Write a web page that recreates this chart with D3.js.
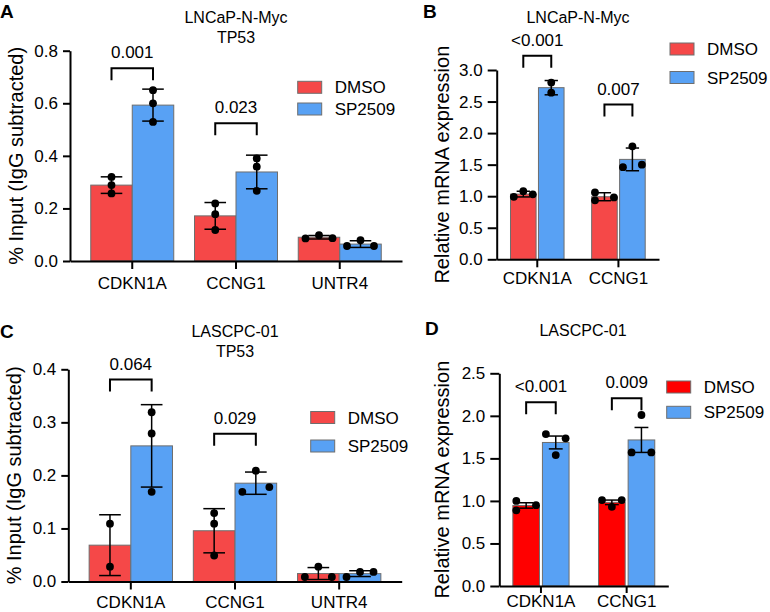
<!DOCTYPE html>
<html><head><meta charset="utf-8">
<script src="https://cdn.jsdelivr.net/npm/d3@7"></script>
<style>
body{margin:0;background:#fff;}
svg text{font-family:"Liberation Sans",Arial,Helvetica,sans-serif;fill:#000;}
</style></head><body>
<svg id="fig" width="770" height="612"></svg>
<script>
// ---------------- data ----------------
const seriesNames = ["DMSO", "SP2509"];
const chipGenes = ["CDKN1A", "CCNG1", "UNTR4"];
const rnaGenes = ["CDKN1A", "CCNG1"];

// Panel A: ChIP, LNCaP-N-Myc, TP53 (% input, mean ± SD)
const aTitle = ["LNCaP-N-Myc", "TP53"];
const aDMSO = [[0.32, 0.289, 0.257], [0.219, 0.178, 0.118], [0.086, 0.087, 0.098]];
const aSP2509 = [[0.65, 0.60, 0.529], [0.39, 0.359, 0.267], [0.057, 0.057, 0.079]];
const aTicks = [0, 0.2, 0.4, 0.6, 0.8];
const aPValues = ["0.001", "0.023"];
const aBracketAt = [0.733, 0.524];

// Panel B: qPCR, LNCaP-N-Myc (relative mRNA, mean ± SD)
const bTitle = ["LNCaP-N-Myc"];
const bDMSO = [[0.99, 1.03, 1.08], [1.06, 0.98, 0.935]];
const bSP2509 = [[2.80, 2.64], [1.46, 1.50, 1.79]];
const bTicks = [0, 0.5, 1.0, 1.5, 2.0, 2.5, 3.0];
const bPValues = ["<0.001", "0.007"];
const bBracketAt = [3.227, 2.453];

// Panel C: ChIP, LASCPC-01, TP53 (% input, mean ± SD)
const cTitle = ["LASCPC-01", "TP53"];
const cDMSO = [[0.109, 0.028], [0.129, 0.109, 0.049], [0.0085, 0.0085, 0.028]];
const cSP2509 = [[0.319, 0.279, 0.169], [0.169, 0.178, 0.209], [0.0085, 0.018, 0.018]];
const cTicks = [0, 0.1, 0.2, 0.3, 0.4];
const cPValues = ["0.064", "0.029"];
const cBracketAt = [0.3806, 0.2786];

// Panel D: qPCR, LASCPC-01 (relative mRNA, mean ± SEM)
const dTitle = ["LASCPC-01"];
const dDMSO = [[1.0, 0.95, 0.89], [1.01, 1.01, 0.93]];
const dSP2509 = [[1.786, 1.736, 1.539], [1.57, 1.57, 2.01]];
const dTicks = [0, 0.5, 1.0, 1.5, 2.0, 2.5];
const dPValues = ["<0.001", "0.009"];
const dBracketAt = [2.159, 2.206];

const chipYLabel = "% Input (IgG subtracted)";
const rnaYLabel = "Relative mRNA expression";

// ---------------- layout ----------------
const FONT = 17;
const panels = [
  {letter:"A", lx:0, ly:17.5, genes:chipGenes, dmso:aDMSO, sp:aSP2509, ticks:aTicks, pv:aPValues, br:aBracketAt, err:"SD",
   title:aTitle, tx:236, tys:[23, 43.3], ylabel:chipYLabel, ylx:22.5,
   x0:70, x1:402, padIn:0.2, padOut:0.2, padSub:0, yBase:261, yTop:50.7, yTick:7, xTick:8, xPad:8,
   colors:["#F54848", "#58A1F4"], legX:297.7, legY:[93.3, 115]},
  {letter:"B", lx:423, ly:17.5, genes:rnaGenes, dmso:bDMSO, sp:bSP2509, ticks:bTicks, pv:bPValues, br:bBracketAt, err:"SD",
   title:bTitle, tx:578, tys:[23], ylabel:rnaYLabel, ylx:449,
   x0:496.7, x1:659, padIn:0.34, padOut:0.17, padSub:0.085, yBase:259.3, yTop:70, yTick:9, xTick:8, xPad:5,
   colors:["#F54848", "#58A1F4"], legX:670, legY:[55, 83.5]},
  {letter:"C", lx:0, ly:338, genes:chipGenes, dmso:cDMSO, sp:cSP2509, ticks:cTicks, pv:cPValues, br:cBracketAt, err:"SD",
   title:cTitle, tx:235, tys:[337, 356.7], ylabel:chipYLabel, ylx:21,
   x0:68.3, x1:401.7, padIn:0.2, padOut:0.2, padSub:0, yBase:581.5, yTop:369.3, yTick:7, xTick:8, xPad:6.5,
   colors:["#F54848", "#58A1F4"], legX:310.7, legY:[423.5, 452]},
  {letter:"D", lx:425, ly:335, genes:rnaGenes, dmso:dDMSO, sp:dSP2509, ticks:dTicks, pv:dPValues, br:dBracketAt, err:"SEM",
   title:dTitle, tx:583, tys:[336], ylabel:rnaYLabel, ylx:449,
   x0:499.3, x1:668.3, padIn:0.344, padOut:0.158, padSub:0.1, yBase:586, yTop:373.3, yTick:9, xTick:7, xPad:2,
   colors:["#FF0000", "#58A1F4"], legX:666.7, legY:[393, 418.3]}
];

const svg = d3.select("#fig");

function layoutDots(vals, y, s, T) {
  const py = vals.map(v => y(v));
  const off = [];
  const placed = [];
  vals.forEach((v, i) => {
    const isolated = py.every((q, j) => j === i || Math.abs(q - py[i]) >= T);
    let o = 0;
    if (!isolated) {
      for (const c of [-s, s, 0]) {
        if (!placed.some(p => p.o === c && Math.abs(p.y - py[i]) < T)) { o = c; break; }
      }
    }
    off.push(o);
    placed.push({o: o, y: py[i]});
  });
  return off;
}

function drawPanel(p) {
  const g = svg.append("g");
  const x = d3.scaleBand().domain(p.genes).range([p.x0, p.x1]).paddingInner(p.padIn).paddingOuter(p.padOut);
  const xs = d3.scaleBand().domain(seriesNames).range([0, x.bandwidth()]).paddingInner(p.padSub);
  const y = d3.scaleLinear().domain([0, d3.max(p.ticks)]).range([p.yBase, p.yTop]);
  const bw = xs.bandwidth();

  const items = [];
  p.genes.forEach((gene, i) => {
    seriesNames.forEach((s, k) => {
      const vals = (k === 0 ? p.dmso : p.sp)[i];
      const mean = d3.mean(vals);
      const sd = d3.deviation(vals);
      const e = p.err === "SEM" ? sd / Math.sqrt(vals.length) : sd;
      items.push({gene, s, k, vals, mean, e, cx: x(gene) + xs(s) + bw / 2});
    });
  });

  // bars
  g.selectAll("rect.bar").data(items).join("rect")
    .attr("x", d => x(d.gene) + xs(d.s))
    .attr("y", d => y(d.mean))
    .attr("width", bw)
    .attr("height", d => y(0) - y(d.mean))
    .attr("fill", d => p.colors[d.k])
    .attr("stroke", "#6e6e6e").attr("stroke-width", 1);

  // error bars
  const capW = bw * 0.52;
  const eg = g.append("g").attr("stroke", "#000").attr("stroke-width", 1.5);
  items.forEach(d => {
    eg.append("line").attr("x1", d.cx).attr("x2", d.cx).attr("y1", y(d.mean + d.e)).attr("y2", y(d.mean - d.e));
    [d.mean + d.e, d.mean - d.e].forEach(v => {
      eg.append("line").attr("x1", d.cx - capW / 2).attr("x2", d.cx + capW / 2).attr("y1", y(v)).attr("y2", y(v));
    });
  });

  // dots
  const spread = Math.min(13.5, bw * 0.37);
  items.forEach(d => {
    const off = layoutDots(d.vals, y, spread, 7.5);
    d.vals.forEach((v, j) => {
      g.append("circle").attr("cx", d.cx + off[j]).attr("cy", y(v)).attr("r", 3.9).attr("fill", "#000");
    });
  });

  // axes
  const yAxis = d3.axisLeft(y).tickValues(p.ticks).tickFormat(d3.format(".1f"))
    .tickSize(p.yTick).tickPadding(5).tickSizeOuter(0);
  const ya = g.append("g").attr("transform", `translate(${p.x0},0)`).call(yAxis);
  const xAxis = d3.axisBottom(x).tickSize(p.xTick).tickPadding(p.xPad).tickSizeOuter(0);
  const xa = g.append("g").attr("transform", `translate(0,${p.yBase})`).call(xAxis);
  [ya, xa].forEach(a => {
    a.attr("font-size", null).attr("font-family", null);
    a.select(".domain").attr("stroke", "#000").attr("stroke-width", 2);
    a.selectAll(".tick line").attr("stroke", "#000").attr("stroke-width", 2);
    a.selectAll(".tick text").attr("font-size", FONT).attr("fill", "#000");
  });

  // y label
  g.append("text")
    .attr("transform", `translate(${p.ylx},${(p.yBase + p.yTop) / 2}) rotate(-90)`)
    .attr("text-anchor", "middle").attr("font-size", 20).text(p.ylabel);

  // title
  p.title.forEach((t, i) => {
    g.append("text").attr("x", p.tx).attr("y", p.tys[i]).attr("text-anchor", "middle")
      .attr("font-size", 16).text(t);
  });

  // panel letter
  g.append("text").attr("x", p.lx).attr("y", p.ly).attr("font-size", 19)
    .attr("font-weight", "bold").text(p.letter);

  // significance brackets
  p.pv.forEach((t, i) => {
    const gene = p.genes[i];
    const xa1 = x(gene) + xs(seriesNames[0]) + bw / 2;
    const xa2 = x(gene) + xs(seriesNames[1]) + bw / 2;
    const yy = y(p.br[i]);
    g.append("path").attr("d", `M${xa1},${yy + 12}V${yy}H${xa2}V${yy + 12}`)
      .attr("fill", "none").attr("stroke", "#000").attr("stroke-width", 2);
    g.append("text").attr("x", (xa1 + xa2) / 2).attr("y", yy - 10).attr("text-anchor", "middle")
      .attr("font-size", FONT).text(t);
  });

  // legend
  seriesNames.forEach((s, k) => {
    g.append("rect").attr("x", p.legX).attr("y", p.legY[k] - 12).attr("width", 24).attr("height", 12)
      .attr("fill", p.colors[k]).attr("stroke", "#6e6e6e").attr("stroke-width", 1);
    g.append("text").attr("x", p.legX + 37).attr("y", p.legY[k]).attr("font-size", FONT).text(s);
  });
}

panels.forEach(drawPanel);
</script>
</body></html>
